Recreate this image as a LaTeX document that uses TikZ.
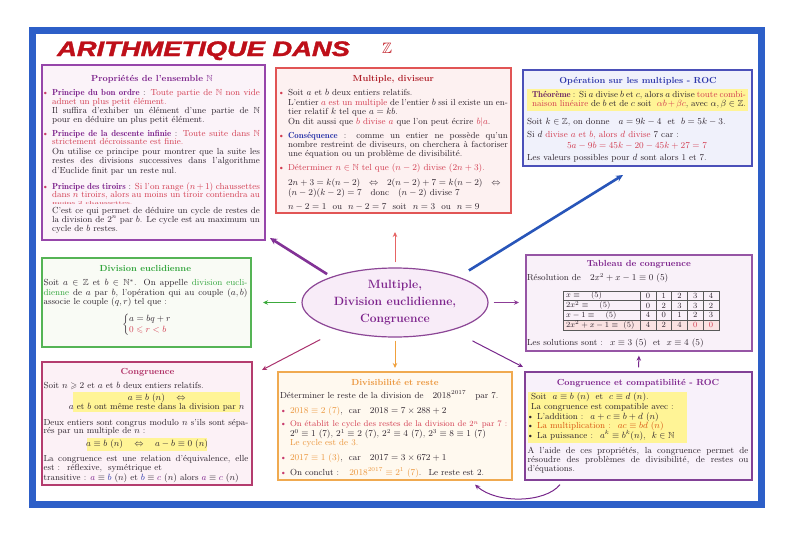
\documentclass[tikz,border=0pt]{standalone}
\usepackage{fontspec}
\usepackage{amssymb}
\usepackage{graphicx}
\usetikzlibrary{arrows.meta,shapes.geometric}
\newfontfamily\titlefont{Liberation Sans}[BoldItalicFeatures={FakeBold=1.6}]
\definecolor{frameblue}{RGB}{45,95,200}
\definecolor{titlered}{RGB}{190,15,25}
\definecolor{txtc}{RGB}{45,35,45}
\definecolor{pur}{RGB}{125,35,140}
\definecolor{thc}{RGB}{110,40,100}
\definecolor{red1}{RGB}{210,60,80}
\definecolor{blue1}{RGB}{45,55,170}
\definecolor{green1}{RGB}{50,165,60}
\definecolor{orange1}{RGB}{235,150,60}
\definecolor{orange2}{RGB}{215,85,20}
\definecolor{yel}{RGB}{255,244,150}
\definecolor{mag}{RGB}{175,45,100}
\definecolor{darkred}{RGB}{175,30,40}
\definecolor{bp}{RGB}{200,60,110}
\definecolor{ellf}{RGB}{248,236,248}
\definecolor{ellc}{RGB}{140,70,150}
\definecolor{tabpink}{RGB}{250,226,226}
\tikzset{
  boxs/.style={rectangle, inner sep=0pt, line width=1.3pt},
  txtb/.style={inner sep=0pt, outer sep=0pt, text=txtc, font=\fontsize{8.8}{9.2}\selectfont},
  txt/.style={txtb, yshift=-2.6pt},
  cell/.style={inner sep=0pt, text=txtc, font=\fontsize{8.2}{9}\selectfont},
  tabline/.style={draw=black!65, line width=0.6pt},
  arr/.style={-{Stealth[length=5pt,width=4.5pt]}, line width=1pt},
  thickarr/.style={-{Stealth[length=7pt,width=6.5pt]}, line width=2.6pt},
}
\newcommand\jlin[5]{\node[txt,anchor=base west] (#1) at (#2,#3) {\hbox to #4pt{#5}};}
\newcommand\rlin[4]{\node[txt,anchor=base west] (#1) at (#2,#3) {#4};}
\newcommand\clin[4]{\node[txt,anchor=base] (#1) at (#2,#3) {#4};}
\newcommand\tlin[5]{\node[txt,anchor=base,font=\fontsize{8.8}{9.2}\selectfont\bfseries,text=#4] (#1) at (#2,#3) {#5};}
\newcommand\bll[1]{\llap{\textcolor{#1}{\textbullet}\hspace{3pt}}}
\newcommand\lab[2]{\textcolor{#1}{\fontseries{b}\selectfont #2}}
\begin{document}
\begin{tikzpicture}[x=1pt,y=-1pt]
\useasboundingbox (0,0) rectangle (800,533);
\fill[white] (0,0) rectangle (800,533);
\draw[frameblue, line width=7pt] (32,30.5) rectangle (761.5,504);

% title
\node[anchor=base west, inner sep=0pt, text=titlered] (title) at (57,56) {\scalebox{1.3}[1]{\fontsize{21}{24}\selectfont\titlefont\bfseries\itshape ARITHMETIQUE DANS}};
\node[inner sep=0pt, text=titlered] (zz) at (387,48) {\fontsize{15}{15}\selectfont$\mathbb{Z}$};

% boxes
\node[boxs, draw={rgb,255:red,150;green,70;blue,170}, fill={rgb,255:red,251;green,243;blue,249}, minimum width=223pt, minimum height=175pt] (b1) at (153.5,152.5) {};
\node[boxs, draw={rgb,255:red,225;green,85;blue,85}, fill={rgb,255:red,253;green,241;blue,241}, minimum width=235pt, minimum height=145pt] (b2) at (393.5,140.5) {};
\node[boxs, draw={rgb,255:red,75;green,80;blue,185}, fill={rgb,255:red,240;green,241;blue,251}, minimum width=229pt, minimum height=96pt] (b3) at (637.5,118) {};
\node[boxs, draw={rgb,255:red,85;green,180;blue,85}, fill={rgb,255:red,249;green,251;blue,245}, minimum width=209pt, minimum height=89pt] (b4) at (146.5,302.5) {};
\node[boxs, draw={rgb,255:red,150;green,85;blue,165}, fill={rgb,255:red,249;green,241;blue,249}, minimum width=226pt, minimum height=96pt] (b5) at (639,303) {};
\node[boxs, draw={rgb,255:red,180;green,60;blue,110}, fill={rgb,255:red,252;green,241;blue,246}, minimum width=210pt, minimum height=123pt] (b6) at (147,423.5) {};
\node[boxs, draw={rgb,255:red,240;green,170;blue,80}, fill={rgb,255:red,255;green,249;blue,239}, minimum width=234pt, minimum height=108pt] (b7) at (395,426) {};
\node[boxs, draw={rgb,255:red,130;green,65;blue,150}, fill={rgb,255:red,248;green,241;blue,250}, minimum width=227pt, minimum height=108pt] (b8) at (638.5,426) {};

% yellow highlights
\fill[yel] (527,88.5) rectangle (748,111);
\fill[yel] (73,392) rectangle (240,412);
\fill[yel] (87,438) rectangle (207,450.5);
\fill[yel] (528,392) rectangle (687,443);

% Box 1
\tlin{t1}{152}{79.3}{pur}{Propriétés de l'ensemble $\mathbb{N}$}
\jlin{l1a}{52}{93.3}{208}{\bll{bp}\lab{pur}{Principe du bon ordre} : \textcolor{red1}{Toute partie de $\mathbb{N}$ non vide}}
\rlin{l1b}{52}{101.7}{\textcolor{red1}{admet un plus petit élément.}}
\jlin{l1c}{52}{111}{208}{Il suffira d'exhiber un élément d'une partie de $\mathbb{N}$}
\rlin{l1d}{52}{120.3}{pour en déduire un plus petit élément.}
\jlin{l1e}{52}{134}{208}{\bll{bp}\lab{pur}{Principe de la descente infinie} : \textcolor{red1}{Toute suite dans $\mathbb{N}$}}
\rlin{l1f}{52}{142.3}{\textcolor{red1}{strictement décroissante est finie.}}
\jlin{l1g}{52}{151.7}{208}{On utilise ce principe pour montrer que la suite les}
\jlin{l1h}{52}{161}{208}{restes des divisions successives dans l'algorithme}
\rlin{l1i}{52}{171}{d'Euclide finit par un reste nul.}
\jlin{l1j}{52}{186.7}{208}{\bll{bp}\lab{pur}{Principe des tiroirs} : \textcolor{red1}{Si l'on range $(n+1)$ chaussettes}}
\jlin{l1k}{52}{195}{208}{\textcolor{red1}{dans $n$ tiroirs, alors au moins un tiroir contiendra au}}
\rlin{l1l}{52}{201.7}{\scalebox{1}[0.5]{\textcolor{red1}{moins 2 chaussettes.}}}
\jlin{l1m}{52}{210.7}{208}{C'est ce qui permet de déduire un cycle de restes de}
\jlin{l1n}{52}{220}{208}{la division de $2^n$ par $b$. Le cycle est au maximum un}
\rlin{l1o}{52}{229}{cycle de $b$ restes.}

% Box 2
\tlin{t2}{393.3}{79.3}{darkred}{Multiple, diviseur}
\rlin{l2a}{288}{93.3}{\bll{red1}Soit $a$ et $b$ deux entiers relatifs.}
\jlin{l2b}{288}{103.3}{220}{L'entier \textcolor{red1}{$a$ est un multiple} de l'entier $b$ ssi il existe un en-}
\rlin{l2c}{288}{112.3}{tier relatif $k$ tel que $a=kb$.}
\rlin{l2d}{288}{121.7}{On dit aussi que \textcolor{red1}{$b$ divise $a$} que l'on peut écrire \textcolor{red1}{$b|a$}.}
\jlin{l2e}{288}{136}{220}{\bll{red1}\lab{blue1}{Conséquence} : comme un entier ne possède qu'un}
\jlin{l2f}{288}{145.3}{220}{nombre restreint de diviseurs, on cherchera à factoriser}
\rlin{l2g}{288}{154.3}{une équation ou un problème de divisibilité.}
\rlin{l2h}{288}{168.3}{\bll{red1}\textcolor{red1}{Déterminer $n\in\mathbb{N}$ tel que $(n-2)$ divise $(2n+3)$.}}
\rlin{l2i}{288}{182.7}{$2n+3=k(n-2)$\quad$\Leftrightarrow$\quad$2(n-2)+7=k(n-2)$\quad$\Leftrightarrow$}
\rlin{l2j}{288}{193.3}{$(n-2)(k-2)=7$\quad donc\quad $(n-2)$ divise $7$}
\rlin{l2k}{288}{206.7}{$n-2=1$\ \ ou\ \ $n-2=7$\ \ soit\ \ $n=3$\ \ ou\ \ $n=9$}

% Box 3
\tlin{t3}{638}{80.7}{blue1}{Opération sur les multiples - ROC}
\jlin{l3a}{532}{95}{214}{\lab{thc}{Théorème} : Si $a$ divise $b$ et $c$, alors $a$ divise \textcolor{red1}{toute combi-}}
\jlin{l3b}{532}{104.3}{214}{\textcolor{red1}{naison linéaire} de $b$ et de $c$ soit \ \textcolor{red1}{$\alpha b+\beta c$}, avec $\alpha,\beta\in\mathbb{Z}$.}
\rlin{l3c}{527}{121.7}{Soit $k\in\mathbb{Z}$, on donne \ \ $a=9k-4$ \ et \ $b=5k-3$.}
\rlin{l3d}{527}{135}{Si $d$ \textcolor{red1}{divise $a$ et $b$, alors $d$ divise} 7 car :}
\clin{l3e}{637}{146}{\textcolor{red1}{$5a-9b=45k-20-45k+27=7$}}
\rlin{l3f}{527}{158.3}{Les valeurs possibles pour $d$ sont alors 1 et 7.}

% Box 4
\tlin{t4}{145.3}{269}{green1}{Division euclidienne}
\jlin{l4a}{43.5}{283.3}{204}{Soit $a\in\mathbb{Z}$ et $b\in\mathbb{N}^*$. On appelle \textcolor{green1}{division eucli-}}
\jlin{l4b}{43.5}{292.7}{204}{\textcolor{green1}{dienne} de $a$ par $b$, l'opération qui au couple $(a,b)$}
\rlin{l4c}{43.5}{301.8}{associe le couple $(q,r)$ tel que :}
\node[txtb] (l4d) at (147,325) {\renewcommand\arraystretch{1.15}$\left\{\begin{array}{@{}l@{}} a=bq+r\\ \textcolor{red1}{0\leqslant r<b}\end{array}\right.$};

% Box 5
\tlin{t5}{638.8}{264.3}{pur}{Tableau de congruence}
\rlin{l5a}{527}{278.3}{Résolution de \ \ $2x^2+x-1\equiv 0\ (5)$}
\fill[tabpink] (563,320.25) rectangle (719,330);
\foreach \yy in {300.75,310.5,320.25} \draw[tabline] (563,\yy) -- (719,\yy);
\foreach \xx in {640,655.8,671.6,687.4,703.2} \draw[tabline] (\xx,291) -- (\xx,330);
\draw[tabline, line width=0.9pt] (563,291) rectangle (719,330);
\node[cell,anchor=west] (r0) at (566,295.9) {$x\equiv\ \ \ (5)$};
\node[cell,anchor=west] (r1) at (566,305.6) {$2x^2\equiv\ \ \ (5)$};
\node[cell,anchor=west] (r2) at (566,315.4) {$x-1\equiv\ \ \ (5)$};
\node[cell,anchor=west] (r3) at (566,325.1) {$2x^2+x-1\equiv\ (5)$};
\foreach \v [count=\i] in {0,1,2,3,4} \node[cell] (c0-\i) at ({640+15.8*(\i-0.5)},295.9) {$\v$};
\foreach \v [count=\i] in {0,2,3,3,2} \node[cell] (c1-\i) at ({640+15.8*(\i-0.5)},305.6) {$\v$};
\foreach \v [count=\i] in {4,0,1,2,3} \node[cell] (c2-\i) at ({640+15.8*(\i-0.5)},315.4) {$\v$};
\foreach \v/\cc [count=\i] in {4/txtc,2/txtc,4/txtc,0/red1,0/red1} \node[cell,text=\cc] (c3-\i) at ({640+15.8*(\i-0.5)},325.1) {$\v$};
\rlin{l5b}{527}{343.3}{Les solutions sont : \ $x\equiv 3\ (5)$ \ et \ $x\equiv 4\ (5)$}

% Box 6
\tlin{t6}{147.5}{372.3}{mag}{Congruence}
\rlin{l6a}{43.5}{385.7}{Soit $n\geqslant 2$ et $a$ et $b$ deux entiers relatifs.}
\clin{l6b}{156.7}{398.3}{$a\equiv b\ (n)\quad\Leftrightarrow$}
\clin{l6c}{156.7}{407.3}{$a$ et $b$ ont même reste dans la division par $n$}
\jlin{l6d}{43.5}{422.7}{205}{Deux entiers sont congrus modulo $n$ s'ils sont sépa-}
\rlin{l6e}{43.5}{431}{rés par un multiple de $n$ :}
\clin{l6f}{147}{444.3}{$a\equiv b\ (n)\quad\Leftrightarrow\quad a-b\equiv 0\ (n)$}
\jlin{l6g}{43.5}{459.3}{205}{La congruence est une relation d'équivalence, elle}
\rlin{l6h}{43.5}{468.3}{est : \ réflexive, \ symétrique et}
\rlin{l6i}{43.5}{477.7}{transitive : $\textcolor{pur}{a}\equiv\textcolor{blue1}{b}\ (n)$ et $\textcolor{blue1}{b}\equiv\textcolor{pur}{c}\ (n)$ alors $\textcolor{pur}{a}\equiv\textcolor{pur}{c}\ (n)$}

% Box 7
\tlin{t7}{395}{382.7}{orange1}{Divisibilité et reste}
\rlin{l7a}{280}{395.7}{Déterminer le reste de la division de \ \ $2018^{2017}$ \ \ par 7.}
\rlin{l7b}{290}{411}{\bll{bp}\textcolor{orange1}{$2018\equiv 2\ (7)$}, \ car \ \ $2018=7\times 288+2$}
\rlin{l7c}{290}{424.3}{\bll{bp}\textcolor{red1}{\fontsize{8.3}{9.2}\selectfont On établit le cycle des restes de la division de $2^n$ par 7 :}}
\rlin{l7d}{290}{434.3}{$2^0\equiv 1\ (7)$, $2^1\equiv 2\ (7)$, $2^2\equiv 4\ (7)$, $2^3\equiv 8\equiv 1\ (7)$}
\rlin{l7e}{290}{442.7}{\textcolor{orange1}{Le cycle est de 3.}}
\rlin{l7f}{290}{458.3}{\bll{bp}\textcolor{orange1}{$2017\equiv 1\ (3)$}, \ car \ \ $2017=3\times 672+1$}
\rlin{l7g}{290}{472.7}{\bll{bp}On conclut : \ \ \textcolor{orange1}{$2018^{2017}\equiv 2^1\ (7)$}. \ Le reste est 2.}

% Box 8
\tlin{t8}{638}{382.7}{pur}{Congruence et compatibilité - ROC}
\rlin{l8a}{531}{397.3}{Soit \ $a\equiv b\ (n)$ \ et \ $c\equiv d\ (n)$.}
\rlin{l8b}{531}{406.7}{La congruence est compatible avec :}
\rlin{l8c}{537}{416.7}{\bll{txtc}L'addition : \ $a+c\equiv b+d\ (n)$}
\rlin{l8d}{537}{426}{\bll{txtc}\textcolor{orange2}{La multiplication : \ $ac\equiv bd\ (n)$}}
\rlin{l8e}{537}{436}{\bll{txtc}La puissance : \ $a^k\equiv b^k(n)$, \ $k\in\mathbb{N}$}
\jlin{l8f}{527.5}{451}{221}{A l'aide de ces propriétés, la congruence permet de}
\jlin{l8g}{527.5}{460}{221}{résoudre des problèmes de divisibilité, de restes ou}
\rlin{l8h}{527.5}{469}{d'équations.}

% central ellipse
\node[ellipse, draw=ellc, fill=ellf, line width=1.2pt, minimum width=186pt, minimum height=69pt, inner sep=0pt, align=center, text=pur, font=\fontsize{12}{17}\selectfont\bfseries] (ell) at (395,302.5) {Multiple,\\Division euclidienne,\\Congruence};

% arrows
\coordinate (a1) at (395,232);
\coordinate (a2) at (270,238);
\coordinate (a3) at (623,175);
\coordinate (a4) at (263,302.5);
\coordinate (a5) at (519,302.5);
\coordinate (a6) at (262,370);
\coordinate (a7) at (395,368);
\coordinate (a8) at (523,367);
\draw[arr, color={rgb,255:red,230;green,100;blue,100}, shorten <=5pt] (ell.north) -- (a1);
\draw[thickarr, color={rgb,255:red,130;green,50;blue,150}, shorten <=5pt] (ell.158) -- (a2);
\draw[thickarr, color={rgb,255:red,40;green,85;blue,185}, shorten <=12pt] (ell.22) -- (a3);
\draw[arr, color={rgb,255:red,60;green,170;blue,60}, shorten <=5pt] (ell.west) -- (a4);
\draw[arr, color={rgb,255:red,140;green,60;blue,150}, shorten <=5pt] (ell.east) -- (a5);
\draw[arr, color={rgb,255:red,170;green,50;blue,110}, shorten <=20pt] (ell.206) -- (a6);
\draw[arr, color={rgb,255:red,240;green,160;blue,60}, shorten <=3pt] (ell.south) -- (a7);
\draw[arr, color={rgb,255:red,120;green,40;blue,140}, shorten <=23pt] (ell.-26) -- (a8);
\draw[arr, color={rgb,255:red,120;green,40;blue,140}, shorten <=4pt, shorten >=4pt] (b8.north) -- (b5.south);
\draw[arr, color={rgb,255:red,120;green,40;blue,140}] ([shift={(-78.5,4)}]b8.south) .. controls (545,503) and (497,504) .. ([shift={(80,4)}]b7.south);
\end{tikzpicture}
\end{document}
